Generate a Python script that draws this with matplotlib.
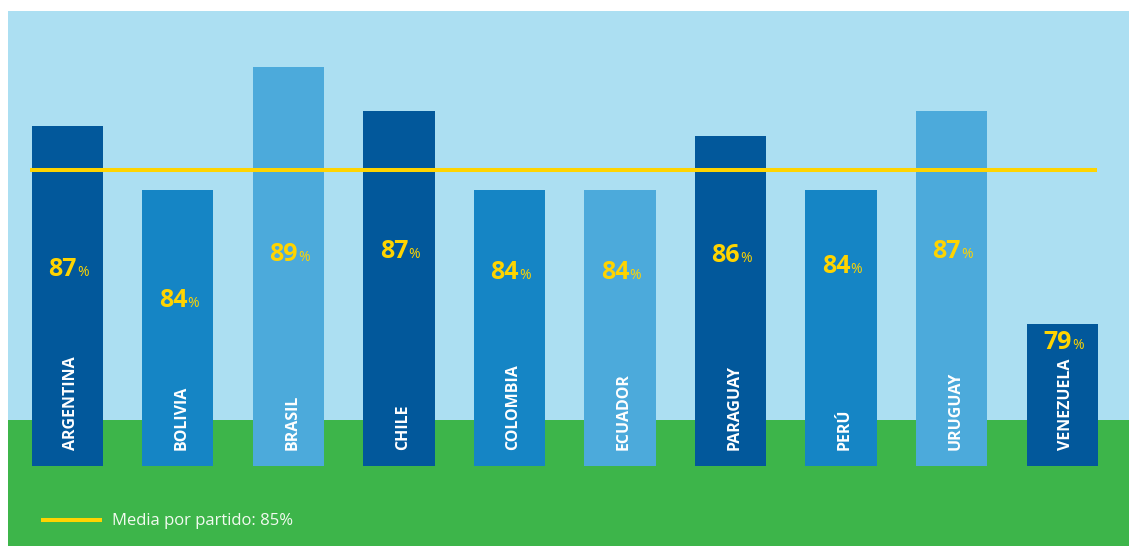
import matplotlib.pyplot as plt

# Data
countries = ['ARGENTINA', 'BOLIVIA', 'BRASIL', 'CHILE', 'COLOMBIA',
             'ECUADOR', 'PARAGUAY', 'PERÚ', 'URUGUAY', 'VENEZUELA']
pct_labels = [87, 84, 89, 87, 84, 84, 86, 84, 87, 79]
bar_heights = [86.7, 84.2, 89.0, 87.3, 84.2, 84.2, 86.3, 84.2, 87.3, 79.0]
media = 85

# Style
DARK = '#02589B'
MID = '#1585C5'
LIGHT = '#4CAADB'
SKY = '#ACDFF2'
GRASS = '#3DB54A'
YELLOW = '#FFD400'
bar_colors = [DARK, MID, LIGHT] * 3 + [DARK]
label_pos = [80.87, 79.67, 81.45, 81.57, 80.75, 80.75, 81.41, 80.98, 81.57, 78.03]

plt.rcParams['font.family'] = ['Open Sans', 'DejaVu Sans']

fig = plt.figure(figsize=(11.29, 5.46), dpi=100)
fig.patch.set_facecolor('white')
ax = fig.add_axes([8 / 1129, 0, 1121 / 1129, 535 / 546])
ax.set_facecolor(SKY)

base = 73.47
ax.set_ylim(70.36, 91.18)
ax.set_xlim(-0.538, 9.606)

# grass
ax.axhspan(70.36, 75.26, color=GRASS, zorder=0, lw=0)

x = list(range(len(countries)))
ax.bar(x, [h - base for h in bar_heights], bottom=base, width=0.643,
       color=bar_colors, zorder=2, lw=0)

ax.plot([-0.34, 9.32], [media, media], color=YELLOW, lw=2.9, zorder=3,
        solid_capstyle='butt', label=f'Media por partido: {media}%')

for i, name in enumerate(countries):
    ax.text(i + 0.035, 74.1, name, rotation=90, ha='center', va='bottom',
            color='white', fontsize=11.5, fontweight='bold', zorder=4)
    ax.text(i + 0.085, label_pos[i], str(pct_labels[i]), ha='right',
            va='baseline', color=YELLOW, fontsize=18, fontweight='bold', zorder=4)
    ax.text(i + 0.088, label_pos[i], '%', ha='left', va='baseline',
            color=YELLOW, fontsize=10, zorder=4)

leg = ax.legend(loc='center left', bbox_to_anchor=(0.0223, 0.046),
                frameon=False, borderpad=0, handlelength=3.65,
                handletextpad=0.62, fontsize=12)
for t in leg.get_texts():
    t.set_color('#F2FAF0')

ax.set_xticks([])
ax.set_yticks([])
for s in ax.spines.values():
    s.set_visible(False)

fig.savefig('out.png', dpi=100, facecolor='white')
